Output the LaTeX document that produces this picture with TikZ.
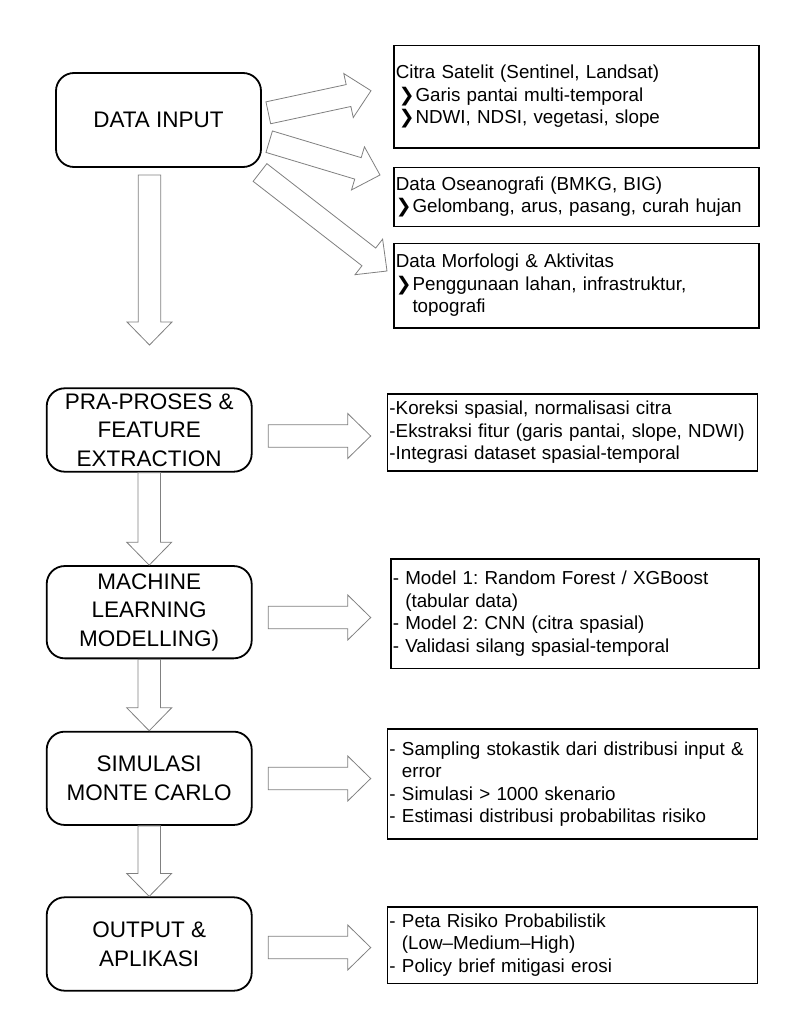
\documentclass[tikz,border=0pt]{standalone}
\usepackage{fontspec}
\setmainfont{Liberation Sans}
\newfontfamily\dejavu{DejaVu Sans}
\usetikzlibrary{calc}
\frenchspacing
\newcommand{\bul}{{\dejavu ❯}}
\newcommand{\fatarrow}[2]{%
  \coordinate (hb) at ($(#2)!23pt!(#1)$);
  \draw[fatarr] ($(#1)!11.2pt!90:(#2)$) -- ($(hb)!11.2pt!90:(#2)$) -- ($(hb)!22.5pt!90:(#2)$) -- (#2)
    -- ($(hb)!22.5pt!-90:(#2)$) -- ($(hb)!11.2pt!-90:(#2)$) -- ($(#1)!11.2pt!-90:(#2)$) -- cycle;}
\tikzset{
  mainbox/.style={draw=black, line width=1.8pt, rounded corners=18pt, align=center,
    font=\fontsize{22.5}{28.5}\selectfont, inner sep=0pt, minimum width=205pt},
  infobox/.style={draw=black, line width=1.5pt, align=left,
    font=\fontsize{18.8}{22.5}\selectfont, inner xsep=2pt, inner ysep=0pt, anchor=north west},
  fatarr/.style={draw=black!50, line width=0.8pt, line join=miter},
}
\begin{document}
\begin{tikzpicture}[x=1pt,y=-1pt]
\useasboundingbox[fill=white] (0,0) rectangle (810,1033);

% main boxes
\node[mainbox, minimum height=94pt] (data) at (158.5,120) {DATA INPUT};
\node[mainbox, minimum height=83.4pt] (pra) at (149.2,430) {PRA-PROSES \&\\FEATURE\\EXTRACTION};
\node[mainbox, minimum height=92.3pt] (ml) at (149.2,612.2) {MACHINE\\LEARNING\\MODELLING)};
\node[mainbox, minimum height=93.3pt] (sim) at (149.2,778.3) {SIMULASI\\MONTE CARLO};
\node[mainbox, minimum height=93.4pt] (out) at (149.2,944) {OUTPUT \&\\APLIKASI};

% info boxes
\node[infobox, text width=361pt, minimum height=102pt] (i1) at (393,45)
  {Citra Satelit (Sentinel, Landsat)\\
   \hspace*{3pt}\bul\hspace{1pt}Garis pantai multi-temporal\\
   \hspace*{3pt}\bul\hspace{1pt}NDWI, NDSI, vegetasi, slope};
\node[infobox, text width=361pt, minimum height=59pt] (i2) at (393,166.7)
  {Data Oseanografi (BMKG, BIG)\\
   \bul\hspace{1pt}Gelombang, arus, pasang, curah hujan};
\node[infobox, text width=361pt, minimum height=84.6pt] (i3) at (393,242.7)
  {Data Morfologi \& Aktivitas\\
   \bul\hspace{1pt}Penggunaan lahan, infrastruktur,\\
   \phantom{\bul}\hspace{1pt}topografi};
\node[infobox, text width=366pt, minimum height=76.7pt] (i4) at (386.7,393.3)
  {-Koreksi spasial, normalisasi citra\\
   -Ekstraksi fitur (garis pantai, slope, NDWI)\\
   -Integrasi dataset spasial-temporal};
\node[infobox, text width=364.3pt, minimum height=109.4pt] (i5) at (390,558.3)
  {- Model 1: Random Forest / XGBoost\\
   \phantom{-}\ (tabular data)\\
   - Model 2: CNN (citra spasial)\\
   - Validasi silang spasial-temporal};
\node[infobox, text width=366pt, minimum height=110pt] (i6) at (386.7,728.3)
  {- Sampling stokastik dari distribusi input \&\\
   \phantom{-}\ error\\
   - Simulasi > 1000 skenario\\
   - Estimasi distribusi probabilitas risiko};
\node[infobox, text width=366pt, minimum height=76.7pt] (i7) at (386.7,906)
  {- Peta Risiko Probabilistik\\
   \phantom{-}\ (Low–Medium–High)\\
   - Policy brief mitigasi erosi};

% arrow end points
\coordinate (d0) at (149.5,175);   \coordinate (d1) at (149.5,345);
\coordinate (t1) at (268.3,112.8); \coordinate (h1) at (371,90.7);
\coordinate (t2) at (269.2,141.7); \coordinate (h2) at (380,175);
\coordinate (t3) at (260,172.5);   \coordinate (h3) at (387,271);
\coordinate (p0) at (268.3,436);   \coordinate (p1) at (370.7,436);
\coordinate (m0) at (268.3,617.5); \coordinate (m1) at (370.7,617.5);
\coordinate (s0) at (268.3,778.5); \coordinate (s1) at (370.7,778.5);
\coordinate (o0) at (268.3,947.5); \coordinate (o1) at (370.7,947.5);

\fatarrow{d0}{d1}
\fatarrow{t1}{h1}
\fatarrow{t2}{h2}
\fatarrow{t3}{h3}
\fatarrow{p0}{p1}
\fatarrow{pra.south}{ml.north}
\fatarrow{m0}{m1}
\fatarrow{ml.south}{sim.north}
\fatarrow{s0}{s1}
\fatarrow{sim.south}{out.north}
\fatarrow{o0}{o1}
\end{tikzpicture}
\end{document}
